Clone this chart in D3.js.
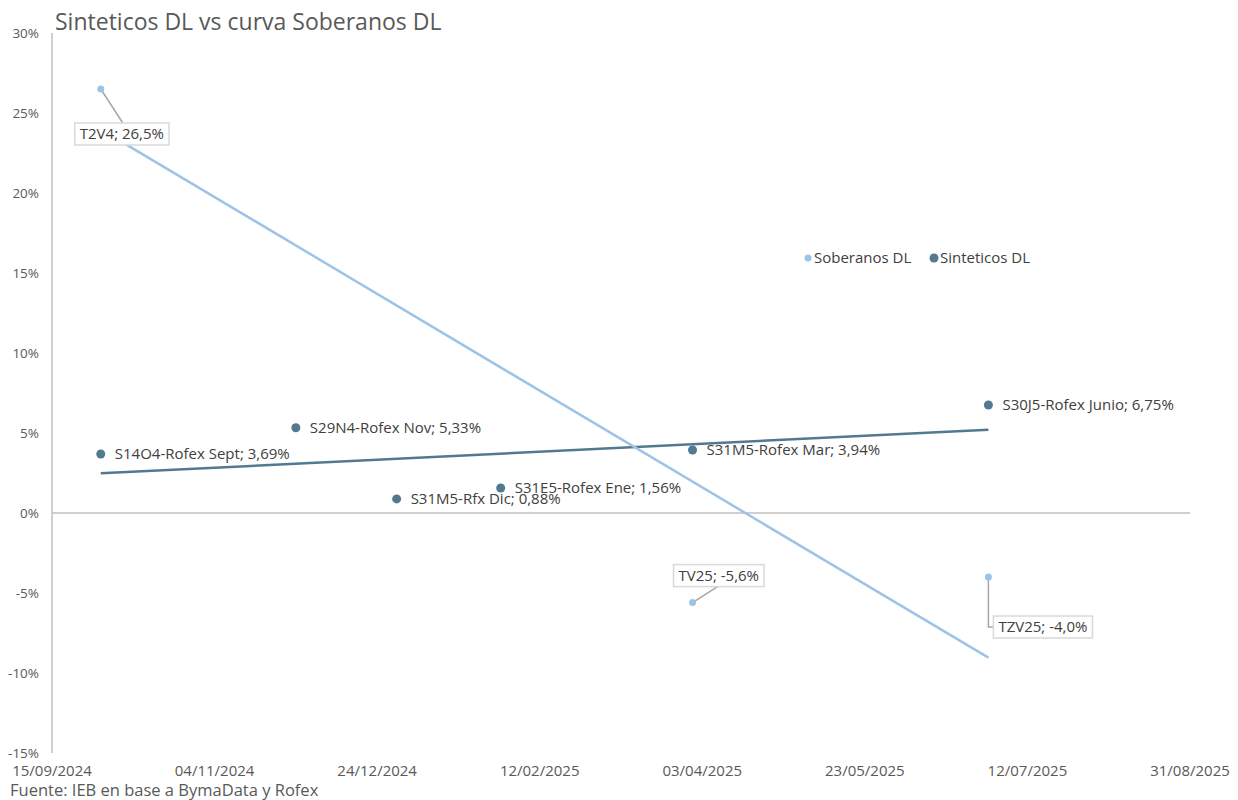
<!DOCTYPE html>
<html>
<head>
<meta charset="utf-8">
<script src="https://cdn.jsdelivr.net/npm/d3@7"></script>
<style>
  body { margin: 0; background: #fff; }
  svg { font-family: "Open Sans", Lato, sans-serif; }
</style>
</head>
<body>
<div class="canvas"></div>
<script>
// data
const soberanosNames = ['T2V4', 'TV25', 'TZV25'];
const soberanosDates = ['2024-09-30', '2025-03-31', '2025-06-30'];
const soberanosValues = [26.5, -5.6, -4.0];

const sinteticosNames = ['S14O4-Rofex Sept', 'S29N4-Rofex Nov', 'S31M5-Rfx Dic', 'S31E5-Rofex Ene', 'S31M5-Rofex Mar', 'S30J5-Rofex Junio'];
const sinteticosDates = ['2024-09-30', '2024-11-29', '2024-12-30', '2025-01-31', '2025-03-31', '2025-06-30'];
const sinteticosValues = [3.69, 5.33, 0.88, 1.56, 3.94, 6.75];

const xTickLabels = ['15/09/2024', '04/11/2024', '24/12/2024', '12/02/2025', '03/04/2025', '23/05/2025', '12/07/2025', '31/08/2025'];
const yTicks = [-15, -10, -5, 0, 5, 10, 15, 20, 25, 30];

const parseDay = d3.timeParse('%Y-%m-%d');
const parseTick = d3.timeParse('%d/%m/%Y');

const soberanos = soberanosNames.map((n, i) => ({ name: n, date: parseDay(soberanosDates[i]), value: soberanosValues[i] }));
const sinteticos = sinteticosNames.map((n, i) => ({ name: n, date: parseDay(sinteticosDates[i]), value: sinteticosValues[i] }));

const colSob = '#9dc3e6';
const colSin = '#52798f';

const width = 1238, height = 800;
const svg = d3.select('.canvas')
  .append('svg')
    .attr('width', width)
    .attr('height', height);

// scales
const x = d3.scaleTime()
  .domain([parseTick(xTickLabels[0]), parseTick(xTickLabels[xTickLabels.length - 1])])
  .range([52, 1190]);

const y = d3.scaleLinear()
  .domain([-15, 30])
  .range([753, 33]);

// title
svg.append('text')
  .attr('x', 55)
  .attr('y', 30)
  .attr('fill', '#595959')
  .attr('font-size', 23)
  .text('Sinteticos DL vs curva Soberanos DL');

// y axis line
svg.append('line')
  .attr('x1', x.range()[0]).attr('x2', x.range()[0])
  .attr('y1', y(30)).attr('y2', y(-15))
  .attr('stroke', '#bfbfbf')
  .attr('stroke-width', 1.5);

// zero line
svg.append('line')
  .attr('x1', x.range()[0]).attr('x2', x.range()[1])
  .attr('y1', y(0)).attr('y2', y(0))
  .attr('stroke', '#bfbfbf')
  .attr('stroke-width', 1.5);

// y tick labels
svg.append('g').selectAll('text')
  .data(yTicks)
  .enter().append('text')
    .attr('x', 39)
    .attr('y', d => y(d))
    .attr('dy', '0.35em')
    .attr('text-anchor', 'end')
    .attr('fill', '#595959')
    .attr('font-size', 13.5)
    .text(d => d + '%');

// x tick labels
svg.append('g').selectAll('text')
  .data(xTickLabels)
  .enter().append('text')
    .attr('x', d => x(parseTick(d)))
    .attr('y', 776)
    .attr('text-anchor', 'middle')
    .attr('fill', '#595959')
    .attr('font-size', 15)
    .text(d => d);

// source
svg.append('text')
  .attr('x', 10)
  .attr('y', 796)
  .attr('fill', '#595959')
  .attr('font-size', 16.5)
  .text('Fuente: IEB en base a BymaData y Rofex');

// linear trendline
const trend = data => {
  const xs = data.map(d => +d.date), ys = data.map(d => d.value);
  const mx = d3.mean(xs), my = d3.mean(ys);
  const b = d3.sum(xs, (v, i) => (v - mx) * (ys[i] - my)) / d3.sum(xs, v => (v - mx) ** 2);
  const ext = d3.extent(xs);
  return ext.map(v => [x(new Date(v)), y(my + b * (v - mx))]);
};

const line = d3.line();

svg.append('path')
  .attr('d', line(trend(sinteticos)))
  .attr('fill', 'none')
  .attr('stroke', colSin)
  .attr('stroke-width', 2.5);

svg.append('path')
  .attr('d', line(trend(soberanos)))
  .attr('fill', 'none')
  .attr('stroke', colSob)
  .attr('stroke-width', 2.5);

// sinteticos points + labels
svg.append('g').selectAll('circle')
  .data(sinteticos)
  .enter().append('circle')
    .attr('cx', d => x(d.date))
    .attr('cy', d => y(d.value))
    .attr('r', 4.5)
    .attr('fill', colSin);

const fmt = v => d3.format('.2f')(v).replace('.', ',').replace('−', '-') + '%';
const fmt1 = v => d3.format('.1f')(v).replace('.', ',').replace('−', '-') + '%';

svg.append('g').selectAll('text')
  .data(sinteticos)
  .enter().append('text')
    .attr('x', d => x(d.date) + 14)
    .attr('y', d => y(d.value))
    .attr('dy', '0.35em')
    .attr('fill', '#404040')
    .attr('font-size', 15)
    .text(d => `${d.name}; ${fmt(d.value)}`);

// soberanos leader lines, points and boxed labels
const sobLabelPos = [
  { dx: -26, dy: 45, lead: [[0, 0], [22, 34]] },
  { dx: -19, dy: -27, lead: [[0, 0], [25, -16]] },
  { dx: 5, dy: 50, lead: [[0, 0], [0, 50], [5, 50]] }
];

const sobG = svg.append('g');

sobG.selectAll('path')
  .data(soberanos)
  .enter().append('path')
    .attr('d', (d, i) => line(sobLabelPos[i].lead.map(p => [x(d.date) + p[0], y(d.value) + p[1]])))
    .attr('fill', 'none')
    .attr('stroke', '#a6a6a6')
    .attr('stroke-width', 1.5);

const boxes = sobG.selectAll('g.lbl')
  .data(soberanos)
  .enter().append('g')
    .attr('class', 'lbl')
    .attr('transform', (d, i) => `translate(${x(d.date) + sobLabelPos[i].dx}, ${y(d.value) + sobLabelPos[i].dy})`);

boxes.append('rect')
  .attr('fill', '#fff')
  .attr('stroke', '#d9d9d9')
  .attr('stroke-width', 1.5)
  .attr('y', -11)
  .attr('height', 22);

boxes.append('text')
  .attr('x', 5)
  .attr('dy', '0.35em')
  .attr('fill', '#404040')
  .attr('font-size', 15)
  .text(d => `${d.name}; ${fmt1(d.value)}`);

boxes.each(function () {
  const w = d3.select(this).select('text').node().getComputedTextLength();
  d3.select(this).select('rect').attr('width', w + 10);
});

sobG.selectAll('circle')
  .data(soberanos)
  .enter().append('circle')
    .attr('cx', d => x(d.date))
    .attr('cy', d => y(d.value))
    .attr('r', 3.5)
    .attr('fill', colSob);

// legend
const legendItems = [
  { name: 'Soberanos DL', color: colSob, r: 3.5, x: 808 },
  { name: 'Sinteticos DL', color: colSin, r: 4.5, x: 934 }
];

const legend = svg.append('g').selectAll('g')
  .data(legendItems)
  .enter().append('g')
    .attr('transform', d => `translate(${d.x}, 258)`);

legend.append('circle')
  .attr('r', d => d.r)
  .attr('fill', d => d.color);

legend.append('text')
  .attr('x', 6)
  .attr('dy', '0.35em')
  .attr('fill', '#404040')
  .attr('font-size', 15)
  .text(d => d.name);
</script>
</body>
</html>
